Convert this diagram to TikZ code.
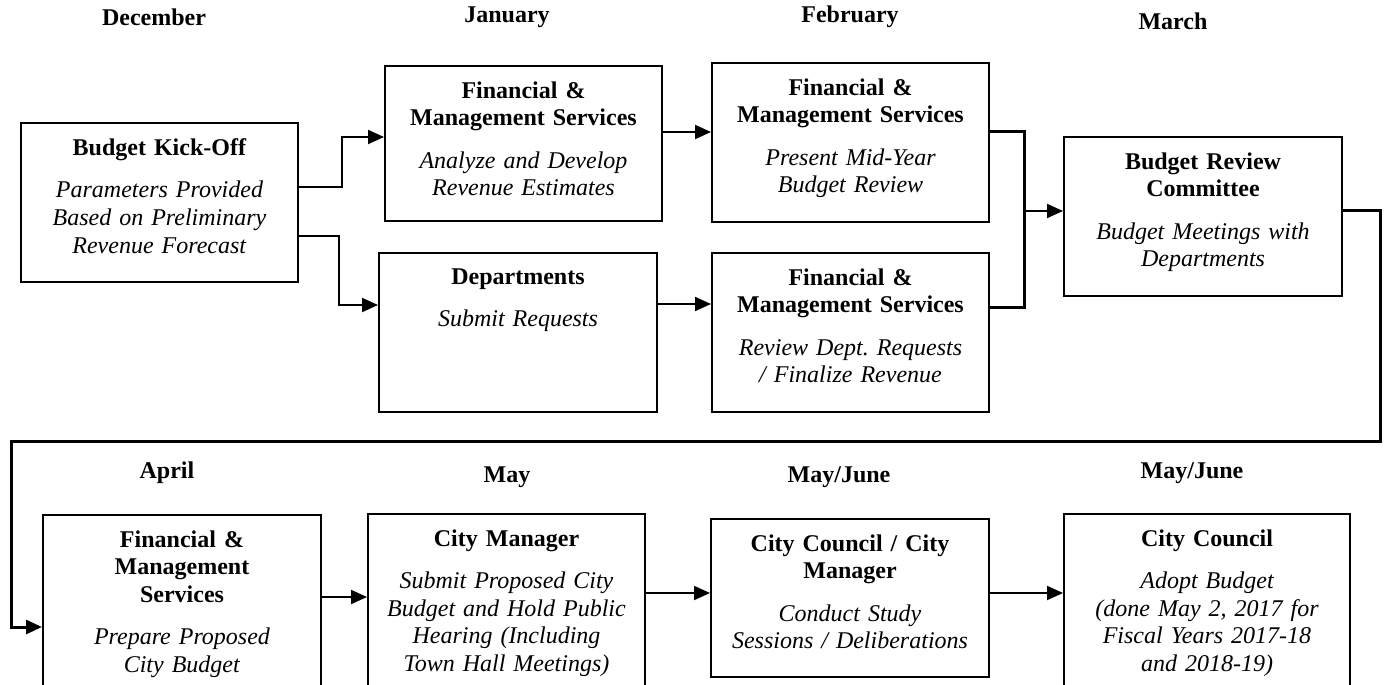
\documentclass[tikz,border=0pt]{standalone}
\usepackage{fontspec}
\setmainfont{Liberation Serif}
\usetikzlibrary{arrows.meta, fit, positioning}
\frenchspacing

\newcommand{\steptext}[2]{\textbf{#1}\\[7.5pt]\textit{#2}}

\begin{document}
\begin{tikzpicture}[x=0.5pt, y=-0.5pt,
  stepbox/.style={draw, line width=1pt, inner sep=0pt},
  boxtext/.style={align=center, text width=136pt, inner sep=0pt, font=\fontsize{12}{13.8}\selectfont},
  month/.style={font=\fontsize{12}{14}\selectfont\bfseries, inner sep=0pt},
  flow/.style={line width=1pt, -{Triangle[length=8pt, width=7pt]}},
  trunk/.style={line width=1.5pt}]
\useasboundingbox (0,0) rectangle (1384,684);
\clip (0,0) rectangle (1384,684);

% months
\node[month] (dec) at (154,17) {December};
\node[month] (jan) at (507,17) {January};
\node[month] (feb) at (850,17) {February};
\node[month] (mar) at (1173,21) {March};
\node[month] (apr) at (167,473) {April};
\node[month] (may) at (507,477) {May};
\node[month] (mayjune) at (839,477) {May/June};
\node[month] (adopt) at (1192,473) {May/June};

% first row
\node[stepbox, fit={(21,123) (298,282)}] (kick) {};
\node[boxtext, below=8pt of kick.north] (kicktext) {\steptext{Budget Kick-Off}{Parameters Provided\\ Based on Preliminary\\ Revenue Forecast}};
\node[stepbox, fit={(385,66) (662,221)}] (fms1) {};
\node[boxtext, below=8pt of fms1.north] (fms1text) {\steptext{Financial \&\\ Management Services}{Analyze and Develop\\ Revenue Estimates}};
\node[stepbox, fit={(379,253) (657,412)}] (dept) {};
\node[boxtext, below=8pt of dept.north] (depttext) {\steptext{Departments}{Submit Requests}};
\node[stepbox, fit={(712,63) (989,222)}] (fms2) {};
\node[boxtext, below=8pt of fms2.north] (fms2text) {\steptext{Financial \&\\ Management Services}{Present Mid-Year\\ Budget Review}};
\node[stepbox, fit={(712,253) (989,412)}] (fms3) {};
\node[boxtext, below=8pt of fms3.north] (fms3text) {\steptext{Financial \&\\ Management Services}{Review Dept. Requests\\ / Finalize Revenue}};
\node[stepbox, fit={(1064,137) (1342,296)}] (brc) {};
\node[boxtext, below=8pt of brc.north] (brctext) {\steptext{Budget Review\\ Committee}{Budget Meetings with\\ Departments}};

% second row
\node[stepbox, fit={(43,515) (321,720)}] (fms4) {};
\node[boxtext, below=8pt of fms4.north] (fms4text) {\steptext{Financial \&\\ Management\\ Services}{Prepare Proposed\\ City Budget}};
\node[stepbox, fit={(368,514) (645,720)}] (cm) {};
\node[boxtext, below=8pt of cm.north] (cmtext) {\steptext{City Manager}{Submit Proposed City\\ Budget and Hold Public\\ Hearing (Including\\ Town Hall Meetings)}};
\node[stepbox, fit={(711,519) (989,677)}] (cccm) {};
\node[boxtext, below=8pt of cccm.north] (cccmtext) {\steptext{City Council / City\\ Manager}{Conduct Study\\ Sessions / Deliberations}};
\node[stepbox, fit={(1064,514) (1350,720)}] (cc) {};
\node[boxtext, below=8pt of cc.north] (cctext) {\steptext{City Council}{Adopt Budget\\ (done May 2, 2017 for\\ Fiscal Years 2017-18\\ and 2018-19)}};

% connectors
\draw[flow] (kick.east |- 0,187) -- ++(43,0) |- (fms1.west |- 0,137);
\draw[flow] (kick.east |- 0,236) -- ++(40,0) |- (dept.west |- 0,305);
\draw[flow] (fms1.east |- 0,132) -- (fms2.west |- 0,132);
\draw[flow] (dept.east |- 0,304) -- (fms3.west |- 0,304);
\coordinate (join) at (1024,211);
\draw[trunk] (fms2.east |- 0,132) -| (join) |- (fms3.east |- 0,307);
\draw[flow] (join) -- (brc.west |- join);
\draw[trunk, -{Triangle[length=8pt, width=7pt]}] (brc.east |- 0,210) -| (1380,441) -| (11,627) -- (fms4.west |- 0,627);
\draw[flow] (fms4.east |- 0,597) -- (cm.west |- 0,597);
\draw[flow] (cm.east |- 0,593) -- (cccm.west |- 0,593);
\draw[flow] (cccm.east |- 0,593) -- (cc.west |- 0,593);
\end{tikzpicture}
\end{document}
